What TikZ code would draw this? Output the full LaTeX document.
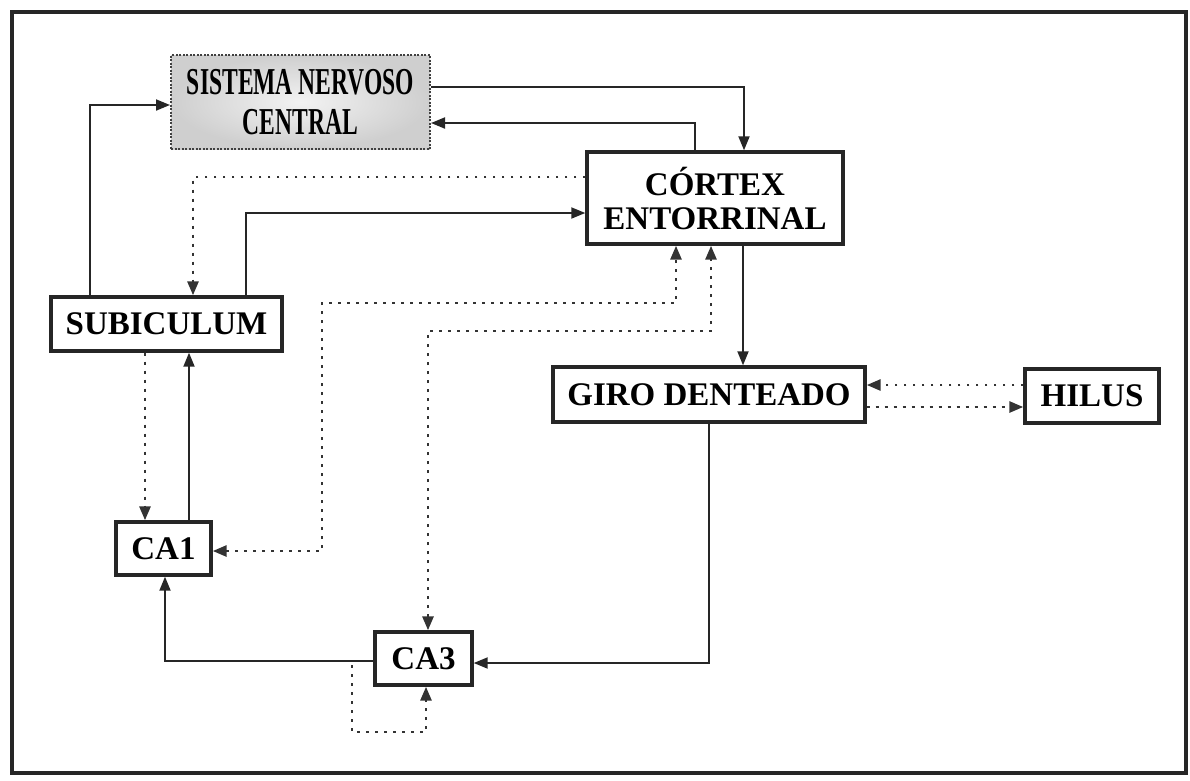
\documentclass[tikz,border=0pt]{standalone}
\usepackage{fontspec}
\setmainfont{Liberation Serif}
\usetikzlibrary{arrows.meta}
\begin{document}
\begin{tikzpicture}[x=1pt,y=-1pt,
  tip/.style={-{Triangle[length=14pt,width=11pt]}},
  box/.style={draw=black!85, line width=3.4pt, rectangle, inner sep=0pt, align=center,
    font=\bfseries\fontsize{33}{34}\selectfont},
  conn/.style={draw=black!85, line width=1.9pt, tip},
  dotconn/.style={draw=black!80, line width=2.8pt, dash pattern=on 2.8pt off 6.2pt, tip},
  dotboth/.style={dotconn, {Triangle[length=14pt,width=11pt]}-{Triangle[length=14pt,width=11pt]}},
  snc/.style={draw=black!75, line width=2pt, dash pattern=on 2pt off 1.5pt,
    inner color=gray!10, outer color=gray!38, rectangle, inner sep=0pt, align=center,
    font=\bfseries\fontsize{38}{40}\selectfont},
  frame/.style={draw=black!85, line width=4.5pt}
]
\useasboundingbox (0,0) rectangle (1190,780);
\draw[frame] (12,12) rectangle (1186,773);

\node[snc, minimum width=259pt, minimum height=94pt] (SNC) at (300.5,102)
  {\scalebox{0.62}[1]{SISTEMA NERVOSO}\\[0pt]\scalebox{0.62}[1]{CENTRAL}};
\node[box, minimum width=256pt, minimum height=92pt] (CE) at (715,198) {CÓRTEX\\ENTORRINAL};
\node[box, minimum width=231pt, minimum height=54pt] (SUB) at (166.5,324) {SUBICULUM};
\node[box, minimum width=312pt, minimum height=55pt] (GD) at (709,394.5) {GIRO DENTEADO};
\node[box, minimum width=134pt, minimum height=54pt] (HIL) at (1092,396) {HILUS};
\node[box, minimum width=95pt, minimum height=53pt] (CA1) at (163.5,548.5) {CA1};
\node[box, minimum width=97pt, minimum height=53pt] (CA3) at (423.5,658.5) {CA3};

% solid connectors
\draw[conn] (SNC.east |- 0,87) -| (CE.north -| 744,0);
\draw[conn] (CE.north -| 695,0) |- (SNC.east |- 0,123);
\draw[conn] (SUB.north -| 90,0) |- (SNC.west |- 0,105);
\draw[conn] (SUB.north -| 246,0) |- (CE.west |- 0,213);
\draw[conn] (CE.south -| 743,0) -- (GD.north -| 743,0);
\draw[conn] (CA1.north -| 189,0) -- (SUB.south -| 189,0);
\draw[conn] (GD.south -| 709,0) |- (CA3.east |- 0,663);
\draw[conn] (CA3.west |- 0,661) -| (CA1.south -| 165,0);

% dotted connectors
\draw[dotconn] (CE.west |- 0,177) -| (SUB.north -| 193,0);
\draw[dotconn] (SUB.south -| 145,0) -- (CA1.north -| 145,0);
\draw[dotboth] (CA1.east |- 0,551) -| (322,303) -| (CE.south -| 676,0);
\draw[dotboth] (CA3.north -| 428,0) |- (711,331) -- (CE.south -| 711,0);
\draw[dotconn] (HIL.west |- 0,385) -- (GD.east |- 0,385);
\draw[dotconn] (GD.east |- 0,407) -- (HIL.west |- 0,407);
\coordinate (loop) at (352,665);
\draw[dotconn] (loop) |- (426,732) -- (CA3.south -| 426,0);
\end{tikzpicture}
\end{document}
